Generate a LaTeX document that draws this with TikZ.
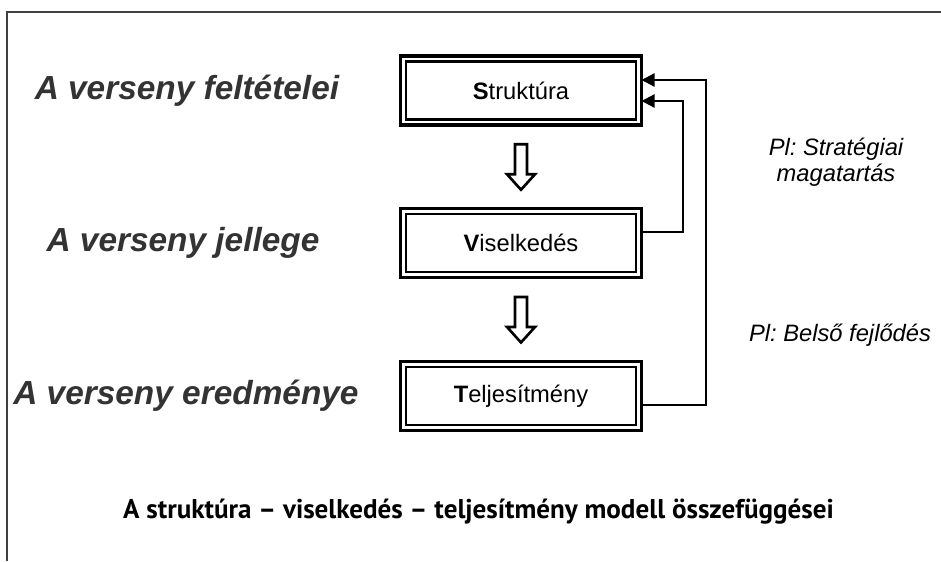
\documentclass[tikz,border=0pt]{standalone}
\usepackage{fontspec}
\setmainfont{Liberation Sans}
\newfontfamily\captionfont{PT Sans}
\usetikzlibrary{arrows.meta}

\begin{document}
\frenchspacing
\begin{tikzpicture}
\useasboundingbox (0,0) rectangle (18.82,11.22);
\tikzstyle{box}=[draw,line width=2.2pt,outer sep=0pt,minimum width=4.82cm,minimum height=1.38cm,font=\fontsize{13.5}{16}\selectfont];
\tikzstyle{level}=[text=black!80,font=\fontsize{19}{22}\selectfont\bfseries\itshape];
\tikzstyle{note}=[align=center,font=\fontsize{13.5}{15}\selectfont\itshape];
\tikzstyle{hollow}=[draw,fill=white,line width=1.5pt,line join=miter];
\tikzstyle{feedback}=[line width=1.3pt,-{Triangle[length=7.5pt,width=7.5pt]}];
\draw[black!75,line width=1pt] (0.14,0)--(0.14,10.98)--(18.82,10.98);
\node[box] (S)at(10.42,9.41) {\textbf{S}truktúra};
\node[box] (V)at(10.42,6.36) {\textbf{V}iselkedés};
\node[box] (T)at(10.42,3.30) {\textbf{T}eljesítmény};
\foreach \n in {S,V,T}
	\draw[line width=1.3pt] ([shift={(3.2pt,-3.2pt)}]\n.north west) rectangle ([shift={(-3.2pt,3.2pt)}]\n.south east);
\node[level] (L1)at(3.74,9.41) {A verseny feltételei};
\node[level] (L2)at(3.66,6.36) {A verseny jellege};
\node[level] (L3)at(3.72,3.30) {A verseny eredménye};
\path (S)--(V) coordinate[midway] (A1);
\path (V)--(T) coordinate[midway] (A2);
\foreach \a in {A1,A2}
	\draw[hollow,shift={(\a)}] (-0.12,0.45)--(0.12,0.45)--(0.12,-0.15)--(0.28,-0.15)--(0,-0.46)--(-0.28,-0.15)--(-0.12,-0.15)--cycle;
\draw[feedback] ([yshift=0.22cm]V.east)--++(0.83,0) |- ([yshift=-0.21cm]S.east);
\draw[feedback] ([yshift=-0.18cm]T.east)--++(1.29,0) |- ([yshift=0.21cm]S.east);
\node[note] (P1)at(16.72,7.98) {Pl: Stratégiai\\magatartás};
\node[note] (P2)at(16.8,4.52) {Pl: Belső fejlődés};
\node[font=\captionfont\bfseries\fontsize{15.4}{18}\selectfont] (C)at(9.57,0.98) {A struktúra – viselkedés – teljesítmény modell összefüggései};
\end{tikzpicture}
\end{document}
